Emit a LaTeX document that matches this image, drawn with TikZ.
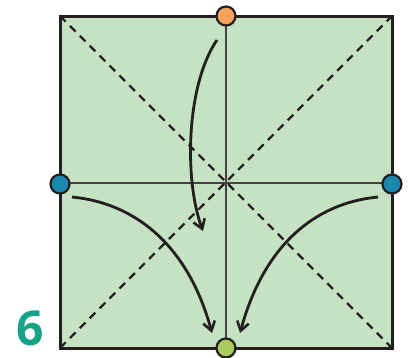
\documentclass[tikz,border=0pt]{standalone}
\usepackage{fontspec}
\newfontfamily\numfont{Open Sans}
\usepackage{xcolor}
\usetikzlibrary{arrows.meta, positioning}

\definecolor{paper}{HTML}{C5E2C3}
\definecolor{dotorange}{HTML}{F6A35E}
\definecolor{dotblue}{HTML}{1B88AE}
\definecolor{dotlime}{HTML}{A9CC5C}
\definecolor{stepgreen}{HTML}{16A387}
\definecolor{ink}{HTML}{231F20}

\begin{document}
\begin{tikzpicture}[
    x=1pt, y=-1pt,
    dot/.style={
        circle,
        draw=ink,
        line width=2.2pt,
        minimum size=19pt,
        inner sep=0pt
    },
    crease/.style={ink, line width=2.3pt, dash pattern=on 8pt off 6pt},
    midline/.style={ink!85, line width=1.4pt},
    fold/.style={-{Straight Barb[length=9pt, width=12pt, line width=2.6pt]}, ink, line width=2.8pt}
]
\useasboundingbox (0,0) rectangle (411,357);

% paper square
\fill[paper] (60,16) rectangle (392,348);
\draw[midline] (226,16) -- (226,348);
\draw[midline] (60,183) -- (392,183);
\draw[crease] (60,16) -- (392,348);
\draw[crease] (60,348) -- (392,16);
\draw[ink, line width=3pt] (60,16) rectangle (392,348);

% corner points
\node[dot, fill=dotorange] (top) at (226,16) {};
\node[dot, fill=dotblue] (left) at (60,184) {};
\node[dot, fill=dotblue] (right) at (392,184) {};
\node[dot, fill=dotlime] (bottom) at (226,348) {};

% arrow ends
\coordinate (topstart) at (217,40);
\coordinate (topend) at (203,231);
\coordinate (leftstart) at (72,197);
\coordinate (leftend) at (212,333);
\coordinate (rightstart) at (378,197);
\coordinate (rightend) at (240,333);

\draw[fold] (topstart) .. controls (186,85) and (184,180) .. (topend);
\draw[fold] (leftstart) .. controls (135,203) and (188,245) .. (leftend);
\draw[fold] (rightstart) .. controls (315,203) and (264,245) .. (rightend);

% step number
\node[text=stepgreen, font=\numfont\bfseries\fontsize{48}{48}\selectfont] (num) at (30,328) {6};

\end{tikzpicture}
\end{document}
